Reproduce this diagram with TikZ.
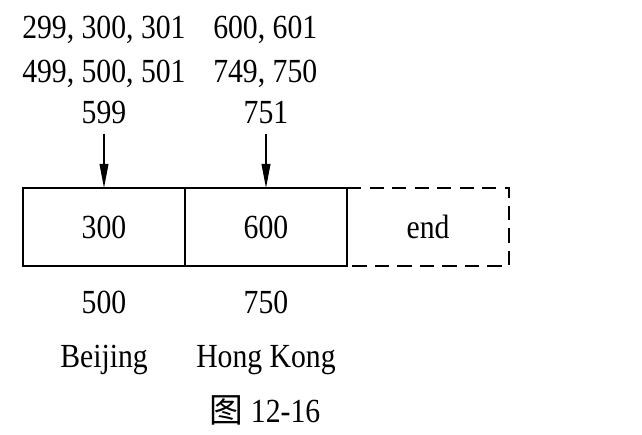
\documentclass[tikz,border=0pt]{standalone}
\usepackage{fontspec}
\setmainfont{Liberation Serif}[FakeStretch=0.88]
\newfontfamily\cjk{Noto Sans CJK SC}
\usetikzlibrary{arrows.meta}

\tikzset{
	lbl/.style={font=\fontsize{24}{28}\selectfont, inner sep=0pt},
	cell/.style={lbl, draw, line width=0.9pt, minimum width=4.05cm, minimum height=1.95cm, outer sep=0pt},
	ptr/.style={line width=0.9pt, -{Triangle[length=6mm, width=2.2mm]}}
}

\begin{document}
\begin{tikzpicture}[x=0.025cm, y=-0.025cm]
	%%%%% START %%%%%
	\useasboundingbox (0, 0) rectangle (642, 434);
	
	% hash keys above the table
	\node[lbl, anchor=base west] (keysa) at (22, 38) {299, 300, 301};
	\node[lbl, anchor=base west] (keysb) at (22, 82) {499, 500, 501};
	\node[lbl, anchor=base] (keyc) at (104, 123) {599};
	\node[lbl, anchor=base west] (keysd) at (213, 38) {600, 601};
	\node[lbl, anchor=base west] (keyse) at (213, 82) {749, 750};
	\node[lbl, anchor=base] (keyf) at (266, 123) {751};
	
	% the table
	\node[cell] (bj) at (104, 227) {300};
	\node[cell] (hk) at (266, 227) {600};
	\node[lbl, minimum width=4.05cm, minimum height=1.95cm, outer sep=0pt] (end) at (428, 227) {end};
	\draw[line width=0.9pt, dash pattern=on 10pt off 6pt] (hk.north east) -- (end.north east) -- (end.south east) -- (hk.south east);
	
	% pointers
	\draw[ptr] ([yshift=-0.25cm]keyc.south) -- (bj.north);
	\draw[ptr] ([yshift=-0.25cm]keyf.south) -- (hk.north);
	
	% labels below
	\node[lbl, anchor=base] (bjval) at (104, 313) {500};
	\node[lbl, anchor=base] (hkval) at (266, 313) {750};
	\node[lbl, anchor=base] (bjname) at (104, 367) {Beijing};
	\node[lbl, anchor=base] (hkname) at (266, 367) {Hong Kong};
	\node[lbl, anchor=base] (caption) at (265, 422) {{\cjk 图} 12-16};
	%%%%% END %%%%%
\end{tikzpicture}
\end{document}
